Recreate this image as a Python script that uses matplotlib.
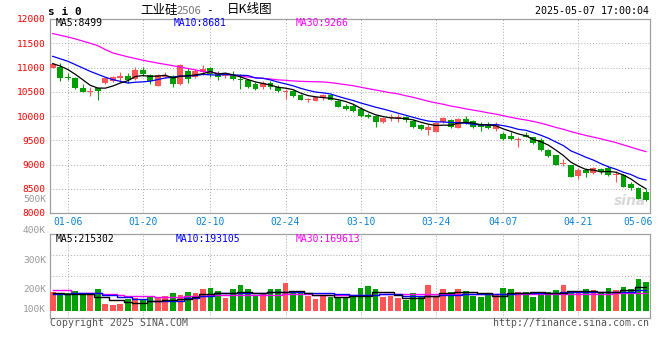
import matplotlib
matplotlib.use('Agg')
import matplotlib.pyplot as plt

plt.rcParams['font.family'] = ['DejaVu Sans Mono', 'Noto Sans CJK SC']

# tick dates (index of the trading day inside the window)
date_pos = [2, 12, 21, 31, 41, 51, 60, 70, 78]
dates = ['01-06', '01-20', '02-10', '02-24', '03-10', '03-24', '04-07', '04-21', '05-06']

opens = [11000, 11020, 10800, 10790, 10570, 10495, 10570, 10680, 10720, 10775,
         10830, 10760, 10950, 10840, 10625, 10808, 10830, 10660, 10930, 10800,
         10910, 10980, 10875, 10835, 10855, 10762, 10736, 10667, 10590, 10688,
         10597, 10500, 10507, 10437, 10328, 10319, 10368, 10424, 10319, 10215,
         10208, 10146, 10021, 10000, 9882, 9960, 9931, 9986, 9896, 9813,
         9715, 9674, 9868, 9917, 9757, 9938, 9896, 9813, 9826, 9727,
         9632, 9591, 9505, 9611, 9557, 9509, 9304, 9202, 9015, 8997,
         8758, 8881, 8827, 8909, 8929, 8793, 8793, 8588, 8520, 8431]
closes = [11080, 10790, 10790, 10575, 10505, 10505, 10510, 10775, 10795, 10815,
          10740, 10950, 10865, 10720, 10840, 10828, 10660, 11050, 10760, 10930,
          10965, 10875, 10805, 10845, 10757, 10752, 10597, 10562, 10688, 10597,
          10514, 10510, 10410, 10333, 10338, 10389, 10424, 10340, 10194, 10146,
          10111, 10007, 9979, 9882, 9965, 9968, 9986, 9917, 9764, 9729,
          9764, 9847, 9951, 9764, 9931, 9847, 9778, 9778, 9757, 9836,
          9523, 9523, 9512, 9577, 9441, 9304, 9168, 8997, 9022, 8745,
          8895, 8827, 8929, 8840, 8793, 8813, 8541, 8520, 8295, 8268]
highs = [11100, 11085, 10880, 10795, 10660, 10590, 10575, 10795, 10815, 10910,
         10885, 11020, 11020, 10865, 10865, 10910, 10840, 11070, 10980, 10965,
         11060, 11015, 10925, 10890, 10925, 10875, 10770, 10700, 10715, 10715,
         10630, 10563, 10530, 10460, 10368, 10400, 10445, 10440, 10340, 10250,
         10243, 10195, 10055, 10021, 9986, 10035, 10035, 10007, 9917, 9826,
         9826, 9868, 9986, 9931, 9951, 10000, 9917, 9882, 9868, 9882,
         9660, 9673, 9563, 9660, 9577, 9543, 9310, 9205, 9113, 9000,
         8929, 8929, 8950, 8929, 8963, 8861, 8800, 8636, 8541, 8486]
lows = [10990, 10725, 10750, 10555, 10490, 10420, 10330, 10660, 10705, 10705,
        10690, 10745, 10830, 10650, 10610, 10780, 10590, 10640, 10680, 10780,
        10855, 10810, 10735, 10775, 10750, 10560, 10580, 10528, 10562, 10562,
        10490, 10354, 10390, 10320, 10285, 10300, 10340, 10330, 10180, 10125,
        10090, 9986, 9951, 9778, 9847, 9896, 9882, 9882, 9743, 9708,
        9618, 9660, 9847, 9743, 9743, 9826, 9757, 9694, 9722, 9700,
        9495, 9509, 9359, 9563, 9427, 9284, 9160, 8990, 8963, 8740,
        8704, 8738, 8813, 8813, 8759, 8636, 8535, 8479, 8281, 8247]

ma5 = [11080, 11030, 10960, 10860, 10748, 10633, 10577, 10574, 10618, 10680,
       10727, 10815, 10833, 10818, 10823, 10841, 10783, 10820, 10828, 10846,
       10873, 10916, 10867, 10884, 10849, 10807, 10751, 10703, 10671, 10639,
       10592, 10574, 10544, 10473, 10421, 10396, 10379, 10365, 10337, 10299,
       10243, 10160, 10087, 10025, 9989, 9960, 9956, 9944, 9920, 9873,
       9832, 9804, 9811, 9811, 9851, 9868, 9854, 9820, 9818, 9799,
       9734, 9683, 9630, 9594, 9515, 9471, 9400, 9297, 9186, 9047,
       8965, 8897, 8884, 8847, 8857, 8840, 8783, 8701, 8592, 8499]
ma10 = [11230, 11180, 11130, 11060, 10990, 10920, 10860, 10800, 10750, 10714,
        10680, 10696, 10704, 10718, 10752, 10784, 10799, 10826, 10823, 10834,
        10857, 10849, 10843, 10856, 10848, 10840, 10834, 10785, 10778, 10744,
        10699, 10663, 10623, 10572, 10530, 10494, 10477, 10454, 10405, 10360,
        10320, 10269, 10226, 10181, 10144, 10102, 10058, 10016, 9973, 9931,
        9896, 9880, 9877, 9866, 9862, 9850, 9829, 9815, 9815, 9825,
        9801, 9769, 9725, 9706, 9657, 9603, 9542, 9464, 9390, 9281,
        9218, 9149, 9091, 9017, 8952, 8903, 8840, 8793, 8720, 8681]
ma30 = [11700, 11665, 11630, 11590, 11545, 11500, 11450, 11370, 11300, 11260,
        11220, 11185, 11150, 11120, 11090, 11065, 11035, 11010, 10980, 10950,
        10920, 10900, 10880, 10860, 10840, 10820, 10805, 10790, 10775, 10764,
        10745, 10736, 10723, 10715, 10710, 10706, 10703, 10688, 10668, 10646,
        10625, 10594, 10564, 10536, 10507, 10478, 10456, 10418, 10385, 10345,
        10305, 10271, 10242, 10206, 10179, 10148, 10121, 10095, 10064, 10039,
        10006, 9973, 9943, 9918, 9888, 9852, 9810, 9765, 9726, 9679,
        9639, 9599, 9564, 9530, 9490, 9452, 9404, 9357, 9308, 9266]

# volume, thousands of lots
vol = [176.4, 166.7, 166.7, 183.8, 171.2, 166.7, 198.6, 87.4, 80.0, 87.4,
       124.5, 129.7, 124.5, 141.5, 141.5, 146.7, 166.7, 154.1, 174.1, 166.7,
       198.6, 206.0, 183.8, 131.9, 198.6, 228.2, 198.6, 146.7, 168.9, 198.6,
       198.6, 243.0, 183.8, 183.8, 146.7, 124.5, 154.1, 139.3, 139.3, 139.3,
       143.0, 206.0, 220.8, 198.6, 139.3, 146.7, 131.9, 117.1, 168.9, 139.3,
       228.2, 146.7, 198.6, 176.4, 198.6, 183.8, 148.9, 139.3, 156.4, 154.1,
       206.0, 198.6, 176.4, 176.4, 139.3, 168.9, 176.4, 191.2, 228.2, 168.9,
       180.0, 198.6, 191.2, 174.1, 206.0, 191.2, 215.6, 196.4, 272.7, 250.5]
vol_ma5 = [171.2, 171.2, 161.5, 161.5, 161.5, 161.5, 141.5, 141.5, 117.1, 117.1,
           102.3, 92.6, 92.6, 109.7, 109.7, 117.1, 117.1, 122.3, 122.3, 141.5,
           159.3, 159.3, 171.2, 171.2, 171.2, 178.6, 178.6, 171.2, 171.2, 178.6,
           178.6, 178.6, 186.0, 186.0, 171.2, 154.1, 154.1, 154.1, 137.1, 137.1,
           148.9, 148.9, 148.9, 174.1, 174.1, 174.1, 154.1, 129.7, 129.7, 129.7,
           144.5, 144.5, 166.7, 166.7, 178.6, 178.6, 178.6, 166.7, 166.7, 148.9,
           148.9, 166.7, 166.7, 166.7, 178.6, 178.6, 166.7, 166.7, 166.7, 183.8,
           183.8, 183.8, 183.8, 178.6, 178.6, 178.6, 191.2, 191.2, 215.6, 215.3]
vol_ma10 = [161.5, 161.5, 161.5, 166.7, 166.7, 166.7, 166.7, 151.9, 151.9, 137.1,
            137.1, 122.3, 122.3, 111.9, 111.9, 111.9, 111.9, 111.9, 129.7, 129.7,
            146.7, 146.7, 166.7, 166.7, 166.7, 171.2, 171.2, 171.2, 171.2, 178.6,
            178.6, 178.6, 178.6, 178.6, 166.7, 166.7, 166.7, 166.7, 159.3, 159.3,
            154.1, 154.1, 154.1, 154.1, 159.3, 159.3, 159.3, 148.9, 148.9, 148.9,
            148.9, 148.9, 154.1, 154.1, 154.1, 159.3, 159.3, 159.3, 159.3, 159.3,
            159.3, 159.3, 166.7, 166.7, 166.7, 166.7, 166.7, 166.7, 174.1, 174.1,
            174.1, 174.1, 174.1, 174.1, 174.1, 178.6, 178.6, 178.6, 191.2, 193.1]
vol_ma30 = [191.2, 191.2, 191.2, 171.2, 171.2, 171.2, 171.2, 161.5, 161.5, 154.1,
            148.9, 148.9, 148.9, 148.9, 141.5, 141.5, 141.5, 141.5, 148.9, 148.9,
            148.9, 154.1, 154.1, 154.1, 154.1, 154.1, 154.1, 154.1, 154.1, 154.1,
            154.1, 159.3, 159.3, 159.3, 159.3, 154.1, 154.1, 154.1, 154.1, 154.1,
            154.1, 154.1, 154.1, 154.1, 159.3, 159.3, 159.3, 159.3, 159.3, 159.3,
            159.3, 159.3, 159.3, 159.3, 159.3, 159.3, 159.3, 159.3, 159.3, 159.3,
            159.3, 159.3, 159.3, 159.3, 159.3, 159.3, 159.3, 159.3, 159.3, 161.5,
            161.5, 161.5, 161.5, 161.5, 161.5, 166.7, 166.7, 166.7, 166.7, 169.6]

RED = '#ff5555'
GREEN = '#00a000'
FRAME = '#a0a0a0'
GRID = '#aaaaaa'
W, H = 660, 360


def box(x0, y0, x1, y1):
    return [x0 / W, 1 - y1 / H, (x1 - x0) / W, (y1 - y0) / H]


def ftext(x, y, s, **kw):
    fig.text(x / W, 1 - y / H, s, va='center', **kw)


fig = plt.figure(figsize=(6.6, 3.6), dpi=100)
ax = fig.add_axes(box(50, 19, 649.5, 213))
axv = fig.add_axes(box(50, 234, 649.5, 318))

n = len(closes)
x = list(range(n))
cols = [RED if c >= o else GREEN for o, c in zip(opens, closes)]

# candles
ax.vlines(x, lows, highs, colors=cols, lw=0.8, zorder=3)
body_lo = [min(o, c) for o, c in zip(opens, closes)]
body_h = [max(abs(c - o), 16) for o, c in zip(opens, closes)]
ax.bar(x, body_h, 0.78, bottom=body_lo, color=cols, lw=0, zorder=4)
ax.plot(x, ma30, color='#ff00ff', lw=0.9, zorder=5)
ax.plot(x, ma10, color='#0000ff', lw=0.9, zorder=5)
ax.plot(x, ma5, color='black', lw=0.9, zorder=6)

ax.set_xlim(-0.36, 79.47)
ax.set_ylim(8000, 12000)
ax.set_yticks(range(8000, 12001, 500))
ax.set_xticks(date_pos, dates)
ax.tick_params(axis='y', length=0, pad=3, labelsize=6.8, labelcolor='#ff0000')
ax.tick_params(axis='x', length=0, pad=3, labelsize=7, labelcolor='#0a84d6')
ax.grid(True, ls=(0, (1, 2)), color=GRID, lw=0.7, zorder=0)
ax.xaxis.get_gridlines()[-1].set_visible(False)

# volume
vol_floor = 35.6
axv.bar(x, [v - vol_floor for v in vol], 0.76, bottom=vol_floor, color=cols, lw=0, zorder=3)
axv.plot(x, vol_ma30, color='#ff00ff', lw=1.0, drawstyle='steps-mid', zorder=4)
axv.plot(x, vol_ma10, color='#0000ff', lw=1.0, drawstyle='steps-mid', zorder=5)
axv.plot(x, vol_ma5, color='black', lw=1.0, drawstyle='steps-mid', zorder=6)
axv.set_xlim(-0.36, 79.47)
axv.set_ylim(-16.3, 606)
axv.set_xticks(date_pos)
axv.set_yticks([295, 450])
axv.tick_params(length=0, labelbottom=False, labelleft=False)
axv.grid(True, ls=(0, (1, 2)), color=GRID, lw=0.7, zorder=0)
axv.xaxis.get_gridlines()[-1].set_visible(False)

for a in (ax, axv):
    for sp in a.spines.values():
        sp.set_color(FRAME)
        sp.set_linewidth(0.9)

# legends inside panels
ax.text(0.009, 0.977, 'MA5:8499', transform=ax.transAxes, va='center', fontsize=7, color='black')
ax.text(0.207, 0.977, 'MA10:8681', transform=ax.transAxes, va='center', fontsize=7, color='#0000ff')
ax.text(0.409, 0.977, 'MA30:9266', transform=ax.transAxes, va='center', fontsize=7, color='#ff00ff')
axv.text(0.009, 0.946, 'MA5:215302', transform=axv.transAxes, va='center', fontsize=7, color='black')
axv.text(0.209, 0.946, 'MA10:193105', transform=axv.transAxes, va='center', fontsize=7, color='#0000ff')
axv.text(0.409, 0.946, 'MA30:169613', transform=axv.transAxes, va='center', fontsize=7, color='#ff00ff')
ax.text(0.995, 0.06, 'sina', transform=ax.transAxes, ha='right', va='center',
        fontsize=10, color='#d8d8d8', style='italic', weight='bold', family='DejaVu Sans')

# volume axis labels
for lab, yy in [('500K', 200), ('400K', 230.5), ('300K', 260.7), ('200K', 290), ('100K', 310)]:
    ftext(46, yy, lab, ha='right', fontsize=6.8, color='#999999')

# header
ftext(48, 12, 's i 0', fontsize=8, weight='bold', color='black')
cjk = ['Noto Sans CJK SC', 'DejaVu Sans']
ftext(140, 10, '工业硅', fontsize=9, color='black', family=cjk)
ftext(177, 10.5, '2506', fontsize=8, color='#777777', family=cjk)
ftext(209, 10.5, '-', fontsize=8, color='black', ha='center')
ftext(227, 10, '日K线图', fontsize=9, color='black', family=cjk)
ftext(649, 11.5, '2025-05-07 17:00:04', fontsize=7.2, color='black', ha='right')

# footer
ftext(50, 323, 'Copyright 2025 SINA.COM', fontsize=7.1, color='#555555')
ftext(649, 323, 'http://finance.sina.com.cn', fontsize=7.1, color='#555555', ha='right')

fig.savefig('out.png', dpi=100)
plt.close(fig)
